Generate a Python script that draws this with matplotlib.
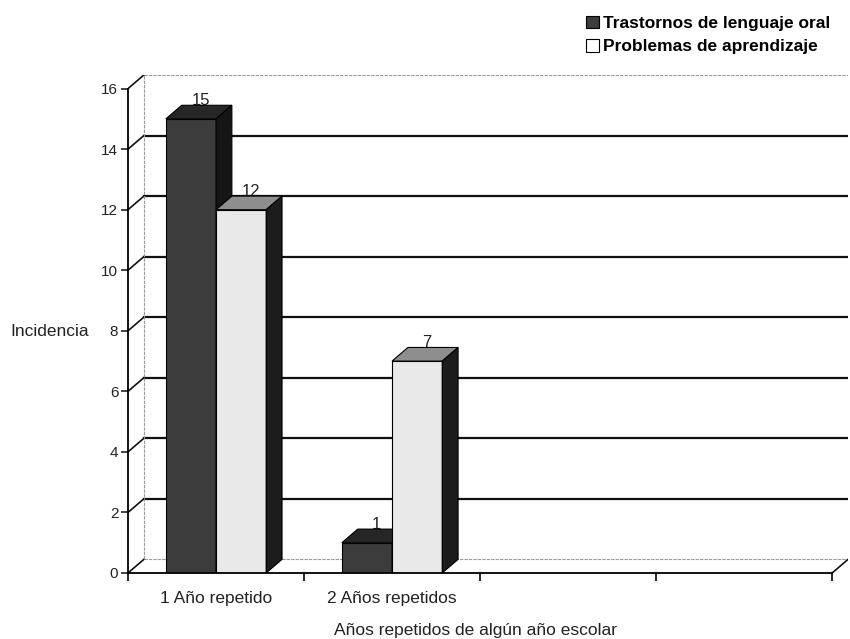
"""Incidencia de años repetidos: barras con efecto 3D al estilo Excel."""

import matplotlib
matplotlib.use('Agg')
import matplotlib.pyplot as plt
from matplotlib.patches import Polygon, Rectangle, Patch

plt.rcParams['font.family'] = ['Liberation Sans', 'DejaVu Sans']

# Data
categories = ['1 Año repetido', '2 Años repetidos', '', '']
trastornos = [15, 1]
problemas = [12, 7]
series_names = ['Trastornos de lenguaje oral', 'Problemas de aprendizaje']
y_ticks = [0, 2, 4, 6, 8, 10, 12, 14, 16]

# Style
DX, DY = 0.09, 0.45          # depth offset in data units
BAR_W = 0.285
BAR_START = 0.215
front_colors = ['#3c3c3c', '#e9e9e9']
top_colors = ['#262626', '#8e8e8e']
side_colors = ['#151515', '#1c1c1c']


def draw_bar(ax, x0, value, idx):
    """Draw one pseudo-3D bar (front, top and side faces)."""
    ax.add_patch(Rectangle((x0, 0), BAR_W, value, facecolor=front_colors[idx],
                           edgecolor='black', linewidth=0.8, zorder=5))
    top = [(x0, value), (x0 + BAR_W, value),
           (x0 + BAR_W + DX, value + DY), (x0 + DX, value + DY)]
    ax.add_patch(Polygon(top, closed=True, facecolor=top_colors[idx],
                         edgecolor='black', linewidth=0.8, zorder=5))
    side = [(x0 + BAR_W, 0), (x0 + BAR_W + DX, DY),
            (x0 + BAR_W + DX, value + DY), (x0 + BAR_W, value)]
    ax.add_patch(Polygon(side, closed=True, facecolor=side_colors[idx],
                         edgecolor='black', linewidth=0.8, zorder=5))
    ax.text(x0 + BAR_W / 2 + 0.055, value + 0.6, str(value), ha='center',
            va='center', fontsize=12, color='#222222', zorder=4)


fig = plt.figure(figsize=(8.5, 6.39), dpi=100)
ax = fig.add_axes([128 / 850, 1 - 573 / 639, 720 / 850, 498 / 639])
n_cat = len(categories)
ymax = y_ticks[-1]
ax.set_xlim(0, n_cat + DX)
ax.set_ylim(0, ymax + DY)
for s in ax.spines.values():
    s.set_visible(False)

# Walls and gridlines
for y in y_ticks:
    if y in (0, ymax):
        ax.plot([DX, n_cat + DX], [y + DY, y + DY], color='#9a9a9a',
                linewidth=0.8, linestyle=(0, (3, 1)), zorder=1)
    else:
        ax.plot([DX, n_cat + DX], [y + DY, y + DY], color='#111111',
                linewidth=1.6, zorder=1)
    ax.plot([0, DX], [y, y + DY], color='#111111', linewidth=1.2, zorder=1)
ax.plot([DX, DX], [DY, ymax + DY], color='#9a9a9a', linewidth=0.8,
        linestyle=(0, (3, 1)), zorder=1)
ax.plot([n_cat + DX, n_cat + DX], [DY, ymax + DY], color='#c8c8c8',
        linewidth=0.6, zorder=1)
ax.plot([n_cat, n_cat + DX], [0, DY], color='#111111', linewidth=1.2, zorder=1)

# Front axes
ax.plot([0, 0], [0, ymax], color='black', linewidth=1.3, zorder=6,
        clip_on=False)
ax.plot([0, n_cat], [0, 0], color='black', linewidth=1.3, zorder=6,
        clip_on=False)

# Bars
for i, (a, b) in enumerate(zip(trastornos, problemas)):
    draw_bar(ax, i + BAR_START, a, 0)
    draw_bar(ax, i + BAR_START + BAR_W, b, 1)

# Ticks
ax.set_yticks(y_ticks)
ax.tick_params(axis='y', direction='out', length=5, width=1.2,
               labelsize=11, pad=2, colors='#222222')
ax.set_xticks(range(n_cat + 1))
ax.set_xticklabels([])
ax.tick_params(axis='x', which='major', direction='out', length=6, width=1.2)
ax.set_xticks([i + 0.5 for i in range(n_cat)], minor=True)
ax.set_xticklabels(categories, minor=True)
ax.tick_params(axis='x', which='minor', length=0, labelsize=12.5, pad=13,
               colors='#222222')

fig.text(50 / 850, 1 - 332 / 639, 'Incidencia', ha='center', va='center',
         fontsize=12.5, color='#222222')
fig.text(475 / 850, 1 - 630 / 639, 'Años repetidos de algún año escolar',
         ha='center', va='center', fontsize=12.5, color='#222222')

# Legend
handles = [Patch(facecolor=front_colors[0], edgecolor='black', linewidth=0.8),
           Patch(facecolor='white', edgecolor='black', linewidth=0.8)]
fig.legend(handles, series_names, loc='upper right',
           bbox_to_anchor=(0.995, 1.0), frameon=False,
           prop={'weight': 'bold', 'size': 12.5}, handlelength=0.75,
           handleheight=0.75, handletextpad=0.25, labelspacing=0.45)

fig.savefig('out.png', dpi=100)
plt.close(fig)
